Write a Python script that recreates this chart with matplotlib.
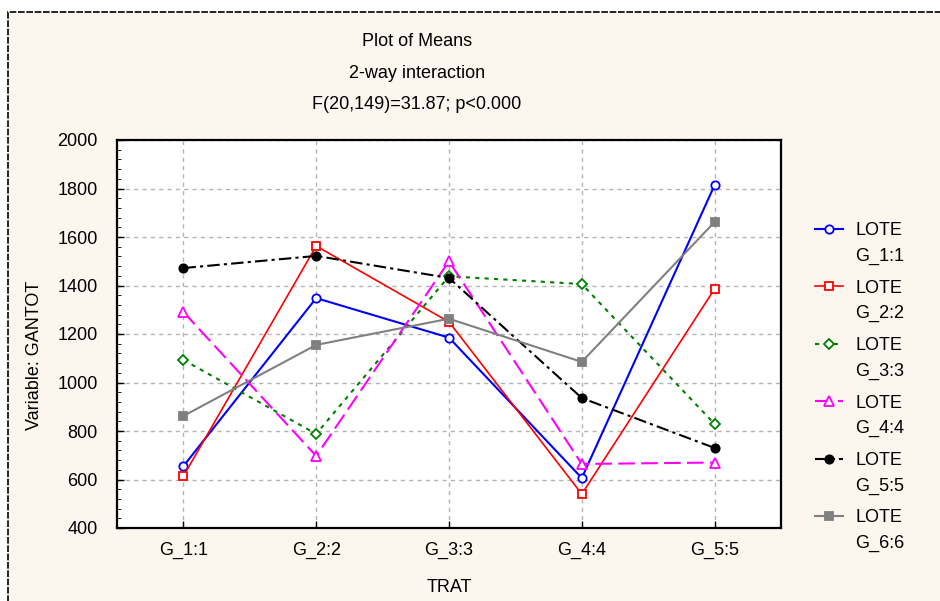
import matplotlib
matplotlib.use('Agg')
from matplotlib import pyplot as plt
from matplotlib.patches import Rectangle
from matplotlib.ticker import MultipleLocator
from matplotlib.legend_handler import HandlerLine2D

plt.rcParams['font.family'] = ['Liberation Sans', 'DejaVu Sans']

trat = ['G_1:1', 'G_2:2', 'G_3:3', 'G_4:4', 'G_5:5']
lote_labels = ['LOTE\nG_1:1', 'LOTE\nG_2:2', 'LOTE\nG_3:3', 'LOTE\nG_4:4', 'LOTE\nG_5:5', 'LOTE\nG_6:6']

lote1 = [655, 1348, 1185, 606, 1814]
lote2 = [614, 1563, 1250, 540, 1386]
lote3 = [1093, 788, 1438, 1406, 829]
lote4 = [1291, 697, 1500, 664, 670]
lote5 = [1472, 1522, 1431, 936, 730]
lote6 = [862, 1155, 1263, 1085, 1662]

series = [lote1, lote2, lote3, lote4, lote5, lote6]
colors = ['#0000ff', '#ff0000', '#008000', '#ff00ff', '#000000', '#808080']
styles = ['-', '-', (0, (2, 2.5)), (0, (8, 3)), (0, (6, 2, 1.5, 2)), '-']
markers = ['o', 's', 'D', '^', 'o', 's']
mfc = ['white', 'white', 'white', 'white', '#000000', '#808080']
msizes = [6, 6, 5, 7, 6, 6]
widths = [1.5, 1.2, 1.5, 1.5, 1.5, 1.5]
fs = 13


class TopHandler(HandlerLine2D):
    # put the legend line next to the first text line
    def create_artists(self, legend, orig_handle, xdescent, ydescent, width, height, fontsize, trans):
        arts = super().create_artists(legend, orig_handle, xdescent, ydescent, width, height, fontsize, trans)
        for a in arts:
            a.set_ydata([y + 10.6 for y in a.get_ydata()])
        return arts


bg = '#fdf6ef'
fig = plt.figure(figsize=(9.4, 6.01), dpi=100)
fig.patch.set_facecolor('white')
fig.patches.append(Rectangle((8 / 940, -0.01), 1, 1.01 - 12 / 601, transform=fig.transFigure,
                             facecolor=bg, edgecolor='black', linestyle=(0, (4, 1)),
                             linewidth=1.2, zorder=-10))

ax = fig.add_axes([117 / 940, 1 - 528 / 601, (781 - 117) / 940, (528 - 140) / 601])
ax.set_facecolor('white')

x = list(range(1, len(trat) + 1))
for i in range(len(series)):
    ax.plot(x, series[i], color=colors[i], linestyle=styles[i], linewidth=widths[i],
            marker=markers[i], markersize=msizes[i], markerfacecolor=mfc[i],
            markeredgecolor=colors[i], markeredgewidth=1.3, label=lote_labels[i])

ax.set_xlim(0.5, 5.5)
ax.set_ylim(400, 2000)
ax.set_xticks(x)
ax.set_xticklabels(trat)
ax.yaxis.set_major_locator(MultipleLocator(200))
ax.yaxis.set_minor_locator(MultipleLocator(40))
ax.tick_params(axis='both', labelsize=fs, direction='in', length=5, width=1)
ax.tick_params(axis='y', which='minor', direction='in', length=3)
ax.tick_params(axis='x', pad=10)
ax.tick_params(axis='y', pad=14)
ax.grid(True, color='#b4b4b4', linestyle=(0, (3, 3)), linewidth=1)
for s in ax.spines.values():
    s.set_linewidth(1.6)

ax.set_xlabel('TRAT', fontsize=fs, labelpad=14)
ax.set_ylabel('Variable: GANTOT', fontsize=fs)
ax.yaxis.set_label_coords(-0.111, 0.446)

fig.text(417 / 940, 1 - 42 / 601, 'Plot of Means', ha='center', va='center', fontsize=fs)
fig.text(417 / 940, 1 - 74 / 601, '2-way interaction', ha='center', va='center', fontsize=fs)
fig.text(417 / 940, 1 - 104 / 601, 'F(20,149)=31.87; p<0.000', ha='center', va='center', fontsize=fs)

handles, labels = ax.get_legend_handles_labels()
leg = fig.legend(handles, labels, loc='upper left', bbox_to_anchor=(799 / 940, 1 - 206 / 601),
                 frameon=False, fontsize=fs, labelspacing=0.82, handlelength=1.55, handletextpad=0.66,
                 handler_map={h: TopHandler() for h in handles})
for t in leg.get_texts():
    t.set_linespacing(1.65)

fig.savefig('out.png', dpi=100, facecolor=fig.get_facecolor())
